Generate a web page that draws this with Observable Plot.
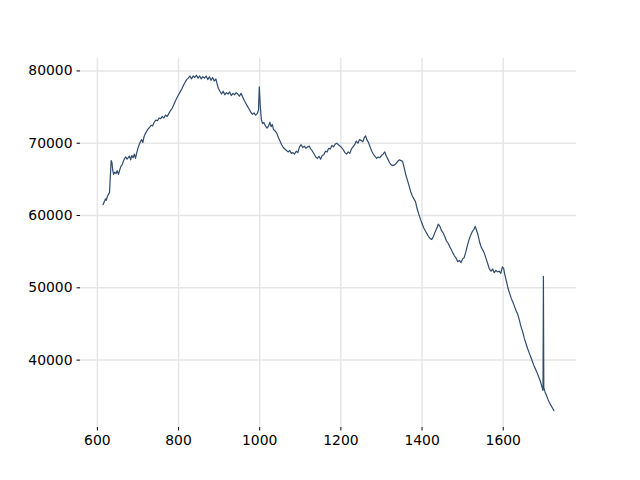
<!DOCTYPE html>
<html>
<head>
<meta charset="utf-8">
<script src="https://cdn.jsdelivr.net/npm/d3@7"></script>
<script src="https://cdn.jsdelivr.net/npm/@observablehq/plot@0.6"></script>
<style>
  html, body { margin: 0; padding: 0; background: white; }
</style>
</head>
<body>
<div id="chart"></div>
<script>
const wavelength = [614,617,620,622,625,628,630,632,634,636,638,640,643,646,649,652,655,658,661,664,667,670,673,676,679,682,685,688,691,694,697,700,703,706,709,712,715,718,721,724,727,730,733,736,740,744,748,752,756,760,764,768,772,776,780,784,788,792,796,800,804,808,812,816,820,824,828,832,836,840,844,848,852,856,860,864,868,872,876,880,884,888,892,895,898,902,906,910,914,918,922,926,930,934,938,942,946,950,954,958,962,966,970,974,978,982,986,990,994,997,999,1001,1004,1007,1010,1014,1018,1022,1025,1028,1031,1034,1038,1042,1046,1050,1054,1058,1062,1066,1070,1074,1078,1082,1086,1090,1094,1098,1102,1106,1110,1114,1118,1122,1126,1130,1134,1138,1142,1146,1150,1154,1158,1162,1166,1170,1174,1178,1182,1186,1190,1194,1198,1202,1206,1210,1214,1218,1222,1226,1230,1234,1238,1242,1246,1250,1254,1258,1261,1264,1268,1272,1276,1280,1284,1288,1292,1296,1300,1304,1308,1312,1316,1320,1324,1328,1332,1336,1340,1344,1348,1352,1356,1360,1364,1368,1372,1376,1380,1384,1388,1392,1396,1400,1404,1408,1412,1416,1420,1424,1428,1432,1436,1440,1444,1448,1452,1456,1460,1464,1468,1472,1476,1480,1484,1488,1492,1496,1500,1504,1508,1512,1516,1520,1524,1528,1531,1534,1538,1542,1546,1550,1554,1558,1562,1566,1570,1574,1578,1582,1586,1590,1594,1598,1601,1604,1608,1612,1616,1620,1624,1628,1632,1636,1640,1644,1648,1652,1656,1660,1664,1668,1672,1676,1680,1684,1688,1692,1695,1697,1698,1699,1700,1703,1706,1710,1714,1718,1722,1725];
const intensity = [61500,61900,62300,62100,62700,63000,63200,65500,67600,67300,66200,65700,66000,65800,66200,65700,66300,66800,67000,67500,67900,68100,67800,68000,68200,67700,68300,68000,68500,67900,68700,69300,69800,70200,70500,70100,70900,71300,71600,71900,72100,72300,72500,72400,72900,73200,73100,73500,73400,73700,73500,73900,73700,74100,74500,74800,75300,75800,76300,76700,77100,77500,78000,78400,78800,79000,79300,78900,79300,79100,79400,79000,79300,78900,79200,79000,79300,78800,79200,78700,79100,78600,78900,78200,77600,77200,76800,77200,76700,77000,76800,77100,76600,76900,76700,77000,76800,76500,76900,76400,75900,75500,75100,74700,74300,74000,74200,73900,74100,74600,77800,75500,73300,72700,72900,72400,72100,72400,72900,72300,72600,71900,71700,71400,70800,70300,69800,69400,69200,69000,68800,69000,68600,68700,68500,68900,68700,69500,69800,69400,69600,69300,69500,69600,69200,68900,68500,68100,67900,68200,67800,68300,68400,68900,68800,69300,69200,69700,69500,69900,70000,69800,69600,69400,69100,68700,68500,68800,68600,69200,69500,69800,70300,70000,70500,70400,70200,70800,71000,70500,70100,69500,68900,68500,68200,67900,68100,68000,68300,68500,68800,68200,67800,67300,67000,66900,67000,67200,67500,67700,67600,67500,66600,65600,64900,64100,63300,62700,62300,61900,60900,60200,59500,58900,58300,57900,57500,57100,56800,56700,57100,57700,58200,58800,58500,57900,57600,57100,56500,56200,55700,55300,54800,54400,54100,53600,53800,53500,54000,54200,55000,55900,56700,57300,57800,58100,58500,58000,57300,56300,55600,55200,54700,54000,53300,52600,52300,52600,52100,52400,52200,52300,52000,52900,52700,51800,50900,49900,49200,48500,48000,47400,46800,46300,45500,44600,43900,43000,42300,41600,41000,40400,39800,39200,38700,38200,37600,37000,36400,36000,35800,51600,36200,35600,35200,34600,34100,33700,33300,33000];
const xTicks = [600, 800, 1000, 1200, 1400, 1600];
const yTicks = [40000, 50000, 60000, 70000, 80000];

const data = wavelength.map((w, i) => ({w, v: intensity[i]}));
const pad = ([a, b]) => [a - 0.05 * (b - a), b + 0.05 * (b - a)];
const xDomain = pad(d3.extent(wavelength));
const yDomain = pad(d3.extent(intensity));

const chart = Plot.plot({
  width: 640,
  height: 480,
  marginLeft: 80,
  marginRight: 64,
  marginTop: 58,
  marginBottom: 53,
  style: {fontFamily: "DejaVu Sans", fontSize: "13.9px", background: "white", color: "black"},
  x: {domain: xDomain, label: null},
  y: {domain: yDomain, label: null},
  marks: [
    Plot.gridX(xTicks, {stroke: "#e6e6e6", strokeOpacity: 1, strokeWidth: 1.5}),
    Plot.gridY(yTicks, {stroke: "#e6e6e6", strokeOpacity: 1, strokeWidth: 1.5}),
    Plot.line(data, {x: "w", y: "v", stroke: "#2f4b6e", strokeWidth: 1.2}),
    Plot.axisX(xTicks, {tickSize: 3.5, tickPadding: 4.5, label: null, tickFormat: d => String(d)}),
    Plot.axisY(yTicks, {tickSize: 3.5, tickPadding: 4.5, label: null, tickFormat: d => String(d)})
  ]
});
document.getElementById("chart").appendChild(chart);
</script>
</body>
</html>
